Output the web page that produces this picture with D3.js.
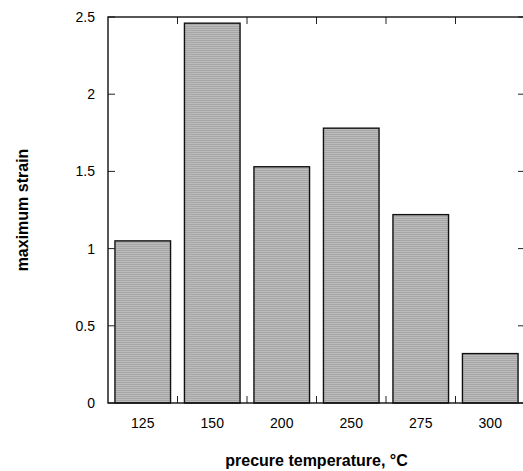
<!DOCTYPE html>
<html lang="en">
<head>
    <meta charset="UTF-8">
    <title>maximum strain</title>
    <script src="https://d3js.org/d3.v7.min.js"></script>
    <style>
        body { margin: 0; background: #fff; }
        text { font-family: "Liberation Sans", Arial, sans-serif; }
    </style>
</head>
<body>
    <div id="plot"></div>
    <script>
        // data
        let temps = ['125', '150', '200', '250', '275', '300'];
        let strains = [1.05, 2.46, 1.53, 1.78, 1.22, 0.32];
        let yTicks = [0, 0.5, 1, 1.5, 2, 2.5];

        function translate(x, y) {
            return 'translate(' + x + ', ' + y + ')';
        }

        let svgWidth = 523, svgHeight = 471;
        let plotLeft = 108, plotRight = 525, plotTop = 17, plotBottom = 403;

        let svg = d3.select('#plot')
            .append('svg')
            .attr('width', svgWidth)
            .attr('height', svgHeight);

        // horizontal line fill of the bars
        let pat = svg.append('defs').append('pattern')
            .attr('id', 'hatch')
            .attr('patternUnits', 'userSpaceOnUse')
            .attr('width', 4).attr('height', 2);
        pat.append('rect').attr('width', 4).attr('height', 2).attr('fill', '#bcbcbc');
        pat.append('rect').attr('width', 4).attr('height', 1).attr('fill', '#a6a6a6');

        let x = d3.scaleBand().domain(temps).range([plotLeft, plotRight]).padding(0);
        let y = d3.scaleLinear().domain([0, 2.5]).range([plotBottom, plotTop]);

        let bw = x.bandwidth();

        svg.selectAll('rect.bar')
            .data(strains)
            .enter()
            .append('rect')
            .attr('class', 'bar')
            .attr('x', (d, i) => x(temps[i]) + bw * 0.1)
            .attr('width', bw * 0.8)
            .attr('y', d => y(d))
            .attr('height', d => y(0) - y(d))
            .attr('fill', 'url(#hatch)')
            .attr('stroke', '#111')
            .attr('stroke-width', 1.4);

        // band boundary ticks, bottom and top
        let bounds = temps.slice(1).map(t => x(t));
        svg.selectAll('line.bt')
            .data(bounds)
            .enter()
            .append('line')
            .attr('x1', d => d).attr('x2', d => d)
            .attr('y1', plotBottom).attr('y2', plotBottom - 7)
            .attr('stroke', '#222').attr('stroke-width', 1);
        svg.selectAll('line.tt')
            .data(bounds)
            .enter()
            .append('line')
            .attr('x1', d => d).attr('x2', d => d)
            .attr('y1', plotTop).attr('y2', plotTop + 7)
            .attr('stroke', '#222').attr('stroke-width', 1);

        // y ticks left and right
        svg.selectAll('line.yl')
            .data(yTicks)
            .enter()
            .append('line')
            .attr('x1', plotLeft).attr('x2', plotLeft + 7)
            .attr('y1', d => y(d)).attr('y2', d => y(d))
            .attr('stroke', '#222').attr('stroke-width', 1);
        svg.selectAll('line.yr')
            .data(yTicks)
            .enter()
            .append('line')
            .attr('x1', plotRight).attr('x2', plotRight - 7)
            .attr('y1', d => y(d)).attr('y2', d => y(d))
            .attr('stroke', '#222').attr('stroke-width', 1);

        // frame
        svg.append('rect')
            .attr('x', plotLeft).attr('y', plotTop)
            .attr('width', plotRight - plotLeft).attr('height', plotBottom - plotTop)
            .attr('fill', 'none')
            .attr('stroke', '#111')
            .attr('stroke-width', 1.4);

        // tick labels
        svg.selectAll('text.yl')
            .data(yTicks)
            .enter()
            .append('text')
            .attr('x', plotLeft - 13)
            .attr('y', d => y(d))
            .attr('dy', '0.35em')
            .attr('text-anchor', 'end')
            .attr('font-size', 14)
            .text(d => d);

        svg.selectAll('text.xl')
            .data(temps)
            .enter()
            .append('text')
            .attr('x', d => x(d) + bw / 2)
            .attr('y', 423)
            .attr('dy', '0.35em')
            .attr('text-anchor', 'middle')
            .attr('font-size', 14)
            .text(d => d);

        svg.append('text')
            .attr('x', (plotLeft + plotRight) / 2)
            .attr('y', 460)
            .attr('dy', '0.35em')
            .attr('text-anchor', 'middle')
            .attr('font-size', 16)
            .attr('font-weight', 'bold')
            .text('precure temperature, °C');

        svg.append('text')
            .attr('transform', translate(22, (plotTop + plotBottom) / 2) + ' rotate(-90)')
            .attr('dy', '0.35em')
            .attr('text-anchor', 'middle')
            .attr('font-size', 16)
            .attr('font-weight', 'bold')
            .text('maximum strain');
    </script>
</body>
</html>
